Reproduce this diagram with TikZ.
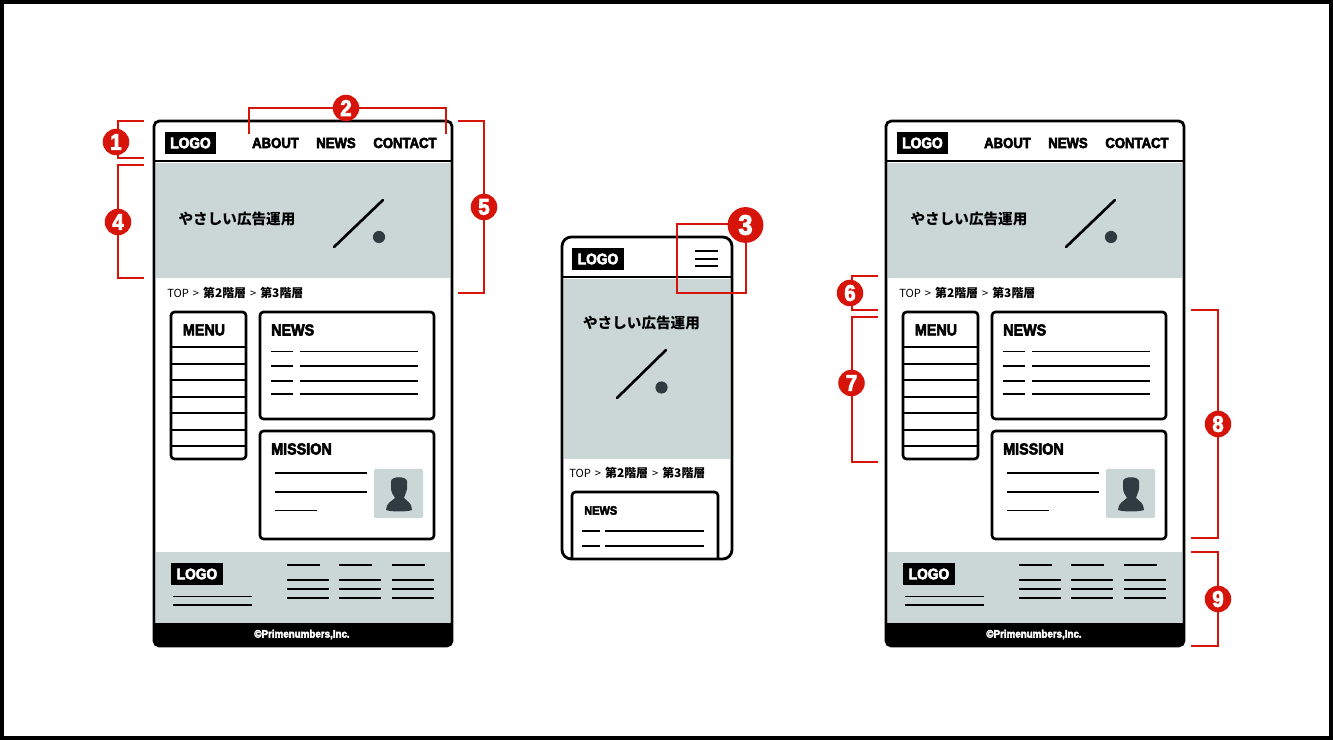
\documentclass[tikz,border=0pt]{standalone}
\usepackage{fontspec}
\setmainfont{Liberation Sans}
\newfontfamily\heavyfont[FakeStretch=0.9,FakeBold=3.5]{Liberation Sans Bold}
\newfontfamily\cjk{Noto Sans CJK JP}
\definecolor{wirefill}{HTML}{CBD7D7}
\definecolor{wiredark}{HTML}{2F3B40}
\definecolor{markred}{HTML}{D7140A}
\newcommand{\crumbs}{{\mdseries\fontsize{8.4}{8.4}\selectfont TOP\hspace{3pt}>\hspace{3pt}}第2階層{\mdseries\fontsize{8.4}{8.4}\selectfont\hspace{3pt}>\hspace{3pt}}第3階層}
\tikzset{
	wireline/.style={line width=1.3pt,black},
	boxline/.style={line width=2pt,black,rounded corners=2.6pt},
	frameline/.style={line width=2.1pt,black},
	redline/.style={line width=1.25pt,markred},
	logotext/.style={fill=black,text=white,font=\heavyfont\fontsize{11.5}{11.5}\selectfont,inner sep=0pt,minimum width=38.5pt,minimum height=16.8pt},
	navtext/.style={font=\heavyfont\fontsize{11}{11}\selectfont,inner sep=0pt},
	headtext/.style={font=\heavyfont\fontsize{12}{12}\selectfont,inner sep=0pt},
	crumbtext/.style={font=\cjk\bfseries\fontsize{9}{9}\selectfont,inner sep=0pt,anchor=west},
	herotext/.style={font=\cjk\bfseries\fontsize{11}{11}\selectfont,inner sep=0pt},
	badge/.style={circle,fill=markred,text=white,inner sep=0pt,minimum size=20pt,font=\heavyfont\fontsize{17}{17}\selectfont},
	bigbadge/.style={badge,minimum size=27pt,font=\heavyfont\fontsize{21}{21}\selectfont},
}
% one desktop page, #1 = prefix of the node names
\newcommand{\desktoppage}[1]{
	% hero, footer
	\fill[wirefill] (156,163.5) rectangle (450,278);
	\fill[wirefill] (156,552) rectangle (450,623);
	\fill[black] (155,623) [rounded corners=4pt] -- (155,646) -- (451,646) [sharp corners] -- (451,623) -- cycle;
	% frame
	\draw[frameline,rounded corners=4pt] (154,121) rectangle (452,646);
	\draw[frameline] (154,161) -- (452,161);
	% header
	\node[logotext] (#1logo) at (190.5,143) {LOGO};
	\node[navtext] (#1about) at (275.5,143) {ABOUT};
	\node[navtext] (#1news) at (336,143) {NEWS};
	\node[navtext] (#1contact) at (405,143) {CONTACT};
	% hero
	\node[herotext] (#1hero) at (237,219) {やさしい広告運用};
	\draw[line width=2pt,line cap=round] (334,247) -- (383,200);
	\fill[wiredark] (379,237) circle[radius=4.6pt];
	\node[crumbtext] (#1crumb) at (167,293) {\crumbs};
	% menu
	\draw[boxline] (171,312) rectangle (246,459);
	\node[headtext] (#1menu) at (204,330) {MENU};
	\foreach \y in {347,364,380,397,413,430,446}
		\draw[wireline] (171,\y) -- (246,\y);
	% news
	\draw[boxline] (260,312) rectangle (434,419);
	\node[headtext,anchor=west] (#1newsbox) at (271,330) {NEWS};
	\foreach \y in {351.5,366,381,394}{
		\draw[wireline] (271,\y) -- (293,\y);
		\draw[wireline] (300,\y) -- (418,\y);
	}
	% mission
	\draw[boxline] (260,431) rectangle (434,539);
	\node[headtext,anchor=west] (#1mission) at (271,449) {MISSION};
	\draw[wireline] (275,473) -- (367,473);
	\draw[wireline] (275,492) -- (367,492);
	\draw[wireline] (275,510.5) -- (317,510.5);
	\fill[wirefill,rounded corners=1pt] (374,469) rectangle (423,518);
	\fill[wiredark] (391,481) .. controls (392,476) and (406,476) .. (407,481) -- (407,489)
		.. controls (406,494) and (404,496) .. (404,498) .. controls (407,501) and (412,503) .. (412,510)
		.. controls (407,512) and (391,512) .. (386,510) .. controls (386,503) and (392,501) .. (395,498)
		.. controls (393,495) and (391,492) .. (391,488) -- cycle;
	% footer
	\node[logotext] (#1footlogo) at (197,574) {LOGO};
	\draw[wireline] (173,596.5) -- (252,596.5);
	\draw[wireline] (173,605) -- (252,605);
	\foreach \x in {287,339,392}{
		\draw[wireline] (\x,565) -- (\x+33,565);
		\foreach \y in {580,589,598}
			\draw[wireline] (\x,\y) -- (\x+42,\y);
	}
	\node[font=\heavyfont\fontsize{8.2}{8.2}\selectfont,text=white,inner sep=0pt] (#1copy) at (302,634.5) {©Primenumbers,Inc.};
}
\begin{document}
\begin{tikzpicture}[x=0.0265cm,y=-0.0265cm]
	\useasboundingbox (0,0) rectangle (1333,740);
	\fill[white] (0,0) rectangle (1333,740);
	\draw[line width=3.2pt] (2,2) rectangle (1331,738);
	% left page
	\desktoppage{l}
	% right page
	\begin{scope}[shift={(732,0)}]
		\desktoppage{r}
	\end{scope}
	% phone
	\fill[wirefill] (564,279) rectangle (730,459);
	\draw[frameline,rounded corners=7pt] (562,237) rectangle (732,559);
	\draw[frameline] (562,277) -- (732,277);
	\node[logotext] (mlogo) at (598,259) {LOGO};
	\foreach \y in {251,259,266}
		\draw[wireline] (695,\y) -- (718,\y);
	\node[herotext] (mhero) at (641.5,323) {やさしい広告運用};
	\draw[line width=2pt,line cap=round] (617,398) -- (666,350);
	\fill[wiredark] (661.5,387.5) circle[radius=4.6pt];
	\node[crumbtext] (mcrumb) at (569,472.5) {\crumbs};
	\draw[boxline] (572,559) -- (572,492) -- (718,492) -- (718,559);
	\node[navtext,anchor=west,font=\heavyfont\fontsize{9.2}{9.2}\selectfont] (mnews) at (584,510.5) {NEWS};
	\foreach \y in {531,546}{
		\draw[wireline] (582,\y) -- (600,\y);
		\draw[wireline] (605,\y) -- (704,\y);
	}
	% brackets
	\coordinate (a1) at (144,121);
	\coordinate (b1) at (144,158);
	\coordinate (a2) at (249,134);
	\coordinate (b2) at (446,134);
	\coordinate (a3) at (677,224);
	\coordinate (b3) at (746,293);
	\coordinate (a4) at (144,165);
	\coordinate (b4) at (144,278);
	\coordinate (a5) at (458,121);
	\coordinate (b5) at (458,293);
	\coordinate (a6) at (878,276);
	\coordinate (b6) at (878,310);
	\coordinate (a7) at (878,317);
	\coordinate (b7) at (878,462);
	\coordinate (a8) at (1191,310);
	\coordinate (b8) at (1191,538);
	\coordinate (a9) at (1191,552);
	\coordinate (b9) at (1191,646);
	\draw[redline] (a1) -- ++(-26,0) |- (b1);
	\draw[redline] (a2) -- ++(0,-26) -| (b2);
	\draw[redline] (a3) rectangle (b3);
	\draw[redline] (a4) -- ++(-26,0) |- (b4);
	\draw[redline] (a5) -- ++(26,0) |- (b5);
	\draw[redline] (a6) -- ++(-26,0) |- (b6);
	\draw[redline] (a7) -- ++(-26,0) |- (b7);
	\draw[redline] (a8) -- ++(27,0) |- (b8);
	\draw[redline] (a9) -- ++(27,0) |- (b9);
	% numbers
	\node[badge] (n1) at (116,142) {1};
	\node[badge] (n2) at (346,108) {2};
	\node[bigbadge] (n3) at (745.5,225) {3};
	\node[badge] (n4) at (118,222) {4};
	\node[badge] (n5) at (484,207) {5};
	\node[badge] (n6) at (850,293) {6};
	\node[badge] (n7) at (851.5,383) {7};
	\node[badge] (n8) at (1218,424) {8};
	\node[badge] (n9) at (1218,599) {9};
\end{tikzpicture}
\end{document}
